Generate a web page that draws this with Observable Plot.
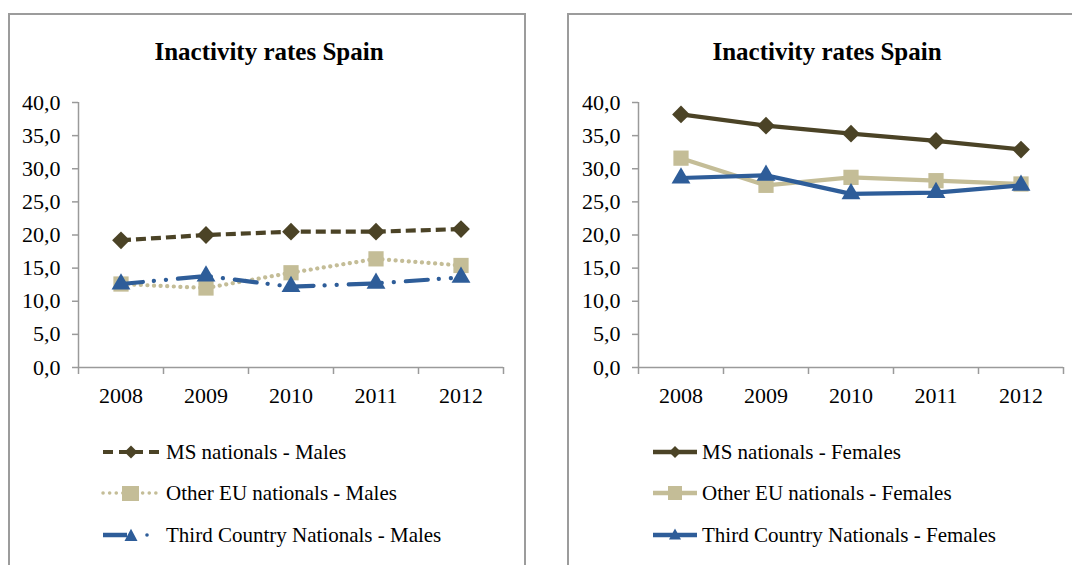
<!DOCTYPE html>
<html>
<head>
<meta charset="utf-8">
<script src="https://cdn.jsdelivr.net/npm/d3@7"></script>
<script src="https://cdn.jsdelivr.net/npm/@observablehq/plot@0.6"></script>
<style>
  html, body { margin: 0; padding: 0; background: #fff; }
  #root { position: relative; width: 1072px; height: 565px; overflow: hidden; font-family: "Liberation Serif", "DejaVu Serif", "Noto Serif", Times, serif; }
  .panel { position: absolute; top: 13px; height: 620px; border: 2px solid #9c9c9c; box-sizing: border-box; }
  .title { position: absolute; top: 36px; font-weight: bold; font-size: 25px; line-height: 32px; white-space: nowrap; transform: translateX(-50%); color: #000; }
  .chart { position: absolute; top: 0; }
  .leg { position: absolute; height: 30px; display: flex; align-items: center; font-size: 21px; white-space: nowrap; color: #000; }
  .leg svg { display: block; margin-right: 4px; }
</style>
</head>
<body>
<div id="root">
  <div class="panel" style="left:8px;width:518px;"></div>
  <div class="panel" style="left:567px;width:600px;"></div>
  <div class="title" style="left:269px;">Inactivity rates Spain</div>
  <div class="title" style="left:827px;">Inactivity rates Spain</div>
  <div id="left" class="chart" style="left:0px;"></div>
  <div id="right" class="chart" style="left:560px;"></div>
</div>
<script>
// ---------- data ----------
const years = [2008, 2009, 2010, 2011, 2012];
const categoryBounds = [2007.5, 2008.5, 2009.5, 2010.5, 2011.5, 2012.5];
const yTicks = [0, 5, 10, 15, 20, 25, 30, 35, 40];

const chartTitle = "Inactivity rates Spain";

const maleNames = ["MS nationals - Males", "Other EU nationals - Males", "Third Country Nationals - Males"];
const femaleNames = ["MS nationals - Females", "Other EU nationals - Females", "Third Country Nationals - Females"];

const msMales    = [19.2, 20.0, 20.5, 20.5, 20.9];
const euMales    = [12.6, 12.0, 14.3, 16.4, 15.4];
const tcnMales   = [12.6, 13.8, 12.2, 12.7, 13.6];

const msFemales  = [38.2, 36.5, 35.3, 34.2, 32.9];
const euFemales  = [31.6, 27.5, 28.7, 28.2, 27.7];
const tcnFemales = [28.6, 29.0, 26.2, 26.4, 27.5];

// ---------- styles ----------
const serif = "'Liberation Serif', 'DejaVu Serif', 'Noto Serif', Times, serif";
const colors = ["#4b4326", "#c4bd97", "#2e5d99"];
const symbols = ["diamond2", "square", "triangle"];
const radii = [8, 8.6, 7];
const maleDash = ["10 5", "0.1 6.5", "22 11 0.1 12 0.1 12"];
const maleCap = ["butt", "round", "round"];
const axisGray = "#9a9a9a";

const rows = vals => years.map((y, i) => ({year: y, value: vals[i]}));
const fmt = d => d.toFixed(1).replace(".", ",");

function chart(seriesVals, dashed, width, marginLeft, marginRight) {
  const marks = [
    Plot.ruleX([categoryBounds[0]], {stroke: axisGray, strokeWidth: 1.5}),
    Plot.ruleY([0], {stroke: axisGray, strokeWidth: 1.5}),
    Plot.axisY({ticks: yTicks, tickSize: 6, tickPadding: 12, tickFormat: fmt, stroke: axisGray, fill: "#000", strokeWidth: 1.5}),
    Plot.axisX({ticks: categoryBounds, tickSize: 7, tickFormat: () => "", stroke: axisGray, strokeWidth: 1.5}),
    Plot.axisX({ticks: years, tickSize: 0, tickPadding: 20, tickFormat: d => String(d), fill: "#000"})
  ];
  seriesVals.forEach((vals, i) => {
    const data = rows(vals);
    marks.push(Plot.line(data, {
      x: "year", y: "value", stroke: colors[i], strokeWidth: 4.2,
      strokeDasharray: dashed ? maleDash[i] : null,
      strokeLinecap: dashed ? maleCap[i] : "round", strokeLinejoin: "round"
    }));
    marks.push(Plot.dot(data, {x: "year", y: "value", symbol: symbols[i], r: radii[i], fill: colors[i], stroke: "none"}));
  });
  return Plot.plot({
    width, height: 420,
    marginLeft, marginRight, marginTop: 102, marginBottom: 53,
    x: {domain: [categoryBounds[0], categoryBounds[categoryBounds.length - 1]], label: null},
    y: {domain: [0, 40], label: null},
    style: {fontFamily: serif, fontSize: "22px", background: "transparent", color: "#000", overflow: "visible"},
    marks
  });
}

document.getElementById("left").appendChild(chart([msMales, euMales, tcnMales], true, 540, 78, 37));
document.getElementById("right").appendChild(chart([msFemales, euFemales, tcnFemales], false, 512, 78, 9));

// ---------- legends ----------
function markerPath(kind, cx, cy, s) {
  if (kind === 0) return `M${cx},${cy - s}L${cx + s},${cy}L${cx},${cy + s}L${cx - s},${cy}Z`;
  if (kind === 1) return `M${cx - s},${cy - s}H${cx + s}V${cy + s}H${cx - s}Z`;
  return `M${cx},${cy - s * 1.1}L${cx + s},${cy + s * 0.75}L${cx - s},${cy + s * 0.75}Z`;
}
function maleSwatch(i) {
  const c = colors[i];
  if (i === 0) return `<svg width="62" height="20"><path d="M3,10H13M19,10H27M35,10H43M49,10H59" stroke="${c}" stroke-width="4"/><path d="${markerPath(0, 31, 10, 6.5)}" fill="${c}"/></svg>`;
  if (i === 1) return `<svg width="62" height="20"><path d="M3,10H59" stroke="${c}" stroke-width="3.5" stroke-dasharray="0.1 6.5" stroke-linecap="round"/><path d="M22,3H39V18H22Z" fill="${c}"/></svg>`;
  return `<svg width="62" height="20"><path d="M3,10H27" stroke="${c}" stroke-width="4.5"/><path d="${markerPath(2, 31, 11, 6.5)}" fill="${c}"/><circle cx="47" cy="10" r="1.8" fill="${c}"/></svg>`;
}
function femaleSwatch(i) {
  const c = colors[i];
  return `<svg width="46" height="20"><path d="M1,10H45" stroke="${c}" stroke-width="4.5"/><path d="${markerPath(i, 23, 10, i === 1 ? 7 : 6)}" fill="${c}"/></svg>`;
}
const root = document.getElementById("root");
const legendY = [452, 493, 535];
maleNames.forEach((name, i) => {
  const d = document.createElement("div");
  d.className = "leg";
  d.style.left = "100px";
  d.style.top = (legendY[i] - 15) + "px";
  d.innerHTML = maleSwatch(i) + `<span>${name}</span>`;
  root.appendChild(d);
});
femaleNames.forEach((name, i) => {
  const d = document.createElement("div");
  d.className = "leg";
  d.style.left = "652px";
  d.style.top = (legendY[i] - 15) + "px";
  d.innerHTML = femaleSwatch(i) + `<span>${name}</span>`;
  root.appendChild(d);
});
</script>
</body>
</html>
